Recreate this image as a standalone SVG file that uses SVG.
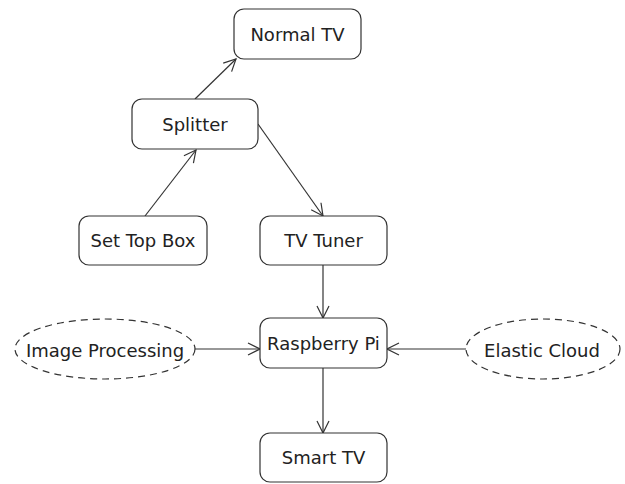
<svg xmlns="http://www.w3.org/2000/svg" width="625" height="484" viewBox="0 0 625 484">
<style>
.n{fill:#fff;stroke:#333;stroke-width:1.2}
.e{fill:#fff;stroke:#333;stroke-width:1.2;stroke-dasharray:7,5}
.t{font-family:"DejaVu Sans",sans-serif;font-size:18px;fill:#222;text-anchor:middle;dominant-baseline:central}
.c{stroke:#333;stroke-width:1.2;fill:none;marker-end:url(#a)}
</style>
<defs>
<marker id="a" viewBox="0 0 14 14" refX="13" refY="7" markerWidth="14" markerHeight="14" markerUnits="userSpaceOnUse" orient="auto">
<path d="M1,1 L13,7 L1,13" fill="none" stroke="#333" stroke-width="1.2"/>
</marker>
</defs>
<g id="connectors">
<line class="c" x1="195" y1="99" x2="236" y2="59"/>
<line class="c" x1="145" y1="216" x2="196" y2="150"/>
<line class="c" x1="258" y1="124" x2="323" y2="216"/>
<line class="c" x1="323" y1="265" x2="323" y2="318"/>
<line class="c" x1="195" y1="349" x2="260" y2="349"/>
<line class="c" x1="466" y1="349" x2="387" y2="349"/>
<line class="c" x1="323" y1="368" x2="323" y2="433"/>
</g>
<g id="normal-tv"><rect class="n" x="234" y="9" width="127" height="50" rx="10"/><text class="t" x="297.5" y="34">Normal TV</text></g>
<g id="splitter"><rect class="n" x="132" y="99" width="126" height="50" rx="10"/><text class="t" x="195" y="124">Splitter</text></g>
<g id="set-top-box"><rect class="n" x="79" y="216" width="128" height="49" rx="10"/><text class="t" x="143" y="240.5">Set Top Box</text></g>
<g id="tv-tuner"><rect class="n" x="260" y="216" width="127" height="49" rx="10"/><text class="t" x="323.5" y="240.5">TV Tuner</text></g>
<g id="raspberry-pi"><rect class="n" x="260" y="318" width="127" height="50" rx="10"/><text class="t" x="323.5" y="343">Raspberry Pi</text></g>
<g id="smart-tv"><rect class="n" x="260" y="433" width="127" height="49" rx="10"/><text class="t" x="323.5" y="457.5">Smart TV</text></g>
<g id="image-processing"><ellipse class="e" cx="105" cy="349" rx="90" ry="30"/><text class="t" x="105" y="350">Image Processing</text></g>
<g id="elastic-cloud"><ellipse class="e" cx="543" cy="349" rx="77" ry="30"/><text class="t" x="542" y="350">Elastic Cloud</text></g>
</svg>
